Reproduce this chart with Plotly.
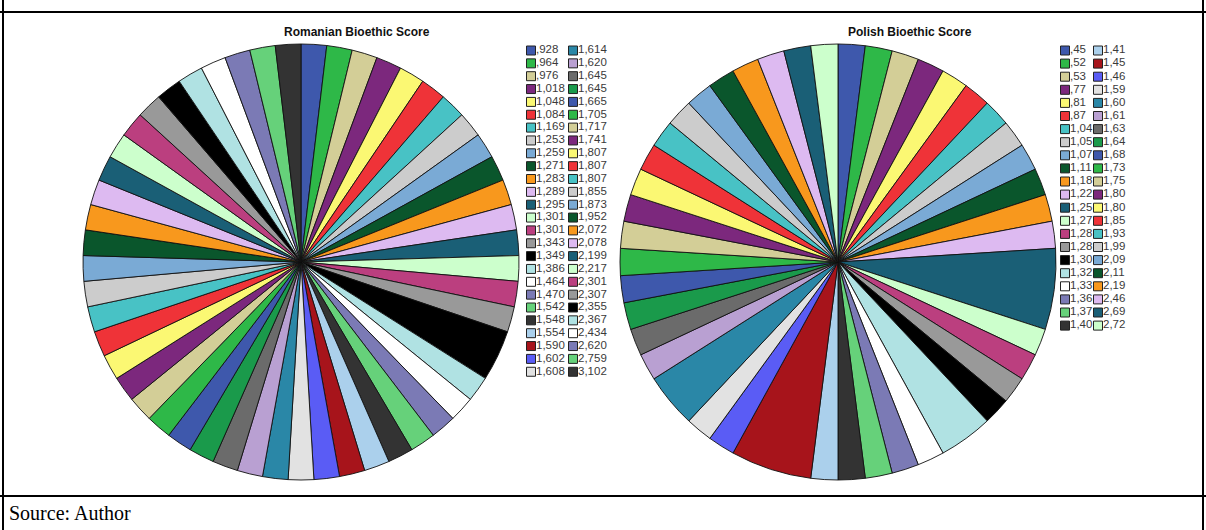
import plotly.graph_objects as go

# ---------------- data ----------------
ro_labels = [",928", ",964", ",976", "1,018", "1,048", "1,084", "1,169", "1,253", "1,259",
             "1,271", "1,283", "1,289", "1,295", "1,301", "1,301", "1,343", "1,349", "1,386",
             "1,464", "1,470", "1,542", "1,548", "1,554", "1,590", "1,602", "1,608",
             "1,614", "1,620", "1,645", "1,645", "1,665", "1,705", "1,717", "1,741", "1,807",
             "1,807", "1,807", "1,855", "1,873", "1,952", "2,072", "2,078", "2,199", "2,217",
             "2,301", "2,307", "2,355", "2,367", "2,434", "2,620", "2,759", "3,102"]
ro_counts = [1, 1, 1, 1, 1, 1, 1, 1, 1,
             1, 1, 1, 1, 1, 1, 1, 2, 1,
             1, 1, 1, 1, 1, 1, 1, 1,
             1, 1, 1, 1, 1, 1, 1, 1, 1,
             1, 1, 1, 1, 1, 1, 1, 1, 1,
             1, 1, 1, 1, 1, 1, 1, 1]

pl_labels = [",45", ",52", ",53", ",77", ",81", ",87", "1,04", "1,05", "1,07", "1,11", "1,18",
             "1,22", "1,25", "1,27", "1,28", "1,28", "1,30", "1,32", "1,33", "1,36", "1,37", "1,40",
             "1,41", "1,45", "1,46", "1,59", "1,60", "1,61", "1,63", "1,64", "1,68", "1,73", "1,75",
             "1,80", "1,80", "1,85", "1,93", "1,99", "2,09", "2,11", "2,19", "2,46", "2,69", "2,72"]
pl_counts = [1, 1, 1, 1, 1, 1, 1, 1, 1, 1, 1,
             1, 3, 1, 1, 1, 1, 2, 1, 1, 1, 1,
             1, 3, 1, 1, 2, 1, 1, 1, 1, 1, 1,
             1, 1, 1, 1, 1, 1, 1, 1, 1, 1, 1]

titles = ["Romanian Bioethic Score", "Polish Bioethic Score"]
source_text = "Source: Author"

# ---------------- style ----------------
PALETTE = ["#3E58AC", "#2EB848", "#D3CE97", "#7C287D", "#FBF873", "#EF3338", "#48C2C5",
           "#CCCCCC", "#7AAAD5", "#0A562C", "#F8981D", "#DDBAF1", "#1A5F76", "#CCFFCC",
           "#BB3F7F", "#999999", "#000000", "#B0E2E3", "#FFFFFF", "#7B7AB5", "#66D17A",
           "#333333", "#ABD0EC", "#A7141B", "#5A5CF5", "#E2E2E2", "#2A87A7", "#B9A0D2",
           "#6B6B6B", "#1A9A4B"]

W, H = 1206, 530


def colors_for(n):
    return [PALETTE[i % len(PALETTE)] for i in range(n)]


def px_dom_x(a, b):
    return [a / W, b / W]


def px_dom_y(top, bottom):
    return [1 - bottom / H, 1 - top / H]


fig = go.Figure()

pies = [
    dict(labels=ro_labels, values=ro_counts, cx=301, cy=262, r=218),
    dict(labels=pl_labels, values=pl_counts, cx=838, cy=262, r=218),
]
for p in pies:
    n = len(p["labels"])
    fig.add_trace(go.Pie(
        labels=[str(i) for i in range(n)],
        hovertext=p["labels"],
        hoverinfo="text+value",
        values=p["values"],
        sort=False,
        direction="clockwise",
        rotation=0,
        textinfo="none",
        showlegend=False,
        marker=dict(colors=colors_for(n), line=dict(color="#111111", width=0.9)),
        domain=dict(x=px_dom_x(p["cx"] - p["r"], p["cx"] + p["r"]),
                    y=px_dom_y(p["cy"] - p["r"], p["cy"] + p["r"])),
    ))

# legends as a scatter on pixel-scaled hidden axes
legends = [
    dict(labels=ro_labels, x0=531, colgap=42, y0=50.5, dy=12.85),
    dict(labels=pl_labels, x0=1065, colgap=33, y0=50.5, dy=13.1),
]
for lg in legends:
    labs = lg["labels"]
    n = len(labs)
    rows = (n + 1) // 2
    xs, ys = [], []
    for i in range(n):
        col, row = divmod(i, rows)
        xs.append(lg["x0"] + col * lg["colgap"])
        ys.append(lg["y0"] + row * lg["dy"])
    fig.add_trace(go.Scatter(
        x=xs, y=ys, mode="markers", showlegend=False, hoverinfo="skip",
        marker=dict(symbol="square", size=9, color=colors_for(n),
                    line=dict(color="#222222", width=1)),
        xaxis="x", yaxis="y",
    ))
    fig.add_trace(go.Scatter(
        x=[x + 5 for x in xs], y=ys, mode="text", text=labs,
        textposition="middle right", showlegend=False, hoverinfo="skip",
        textfont=dict(family="Liberation Sans, Arial", size=11.5, color="#3a3a3a"),
        xaxis="x", yaxis="y",
    ))

annotations = [
    dict(text="<b>%s</b>" % titles[0], x=357 / W, y=1 - 32 / H, xref="paper", yref="paper",
         showarrow=False, xanchor="center", yanchor="middle",
         font=dict(family="Liberation Sans, Arial", size=12, color="#111111")),
    dict(text="<b>%s</b>" % titles[1], x=910 / W, y=1 - 32 / H, xref="paper", yref="paper",
         showarrow=False, xanchor="center", yanchor="middle",
         font=dict(family="Liberation Sans, Arial", size=12, color="#111111")),
    dict(text=source_text, x=7 / W, y=1 - 513 / H, xref="paper", yref="paper",
         showarrow=False, xanchor="left", yanchor="middle",
         font=dict(family="Liberation Serif, Times New Roman", size=20, color="#000000")),
]

line = dict(color="#000000", width=2)
shapes = [
    dict(type="line", xref="paper", yref="paper", x0=0, x1=1, y0=1 - 12 / H, y1=1 - 12 / H, line=line),
    dict(type="line", xref="paper", yref="paper", x0=0, x1=1, y0=1 - 496 / H, y1=1 - 496 / H, line=line),
    dict(type="line", xref="paper", yref="paper", x0=3 / W, x1=3 / W, y0=0, y1=1, line=line),
    dict(type="line", xref="paper", yref="paper", x0=1203 / W, x1=1203 / W, y0=0, y1=1, line=line),
]

fig.update_layout(
    width=W, height=H, margin=dict(l=0, r=0, t=0, b=0),
    paper_bgcolor="white", plot_bgcolor="rgba(0,0,0,0)",
    xaxis=dict(range=[0, W], domain=[0, 1], visible=False, fixedrange=True),
    yaxis=dict(range=[H, 0], domain=[0, 1], visible=False, fixedrange=True),
    annotations=annotations, shapes=shapes, showlegend=False,
)

fig.write_html("out.html")
